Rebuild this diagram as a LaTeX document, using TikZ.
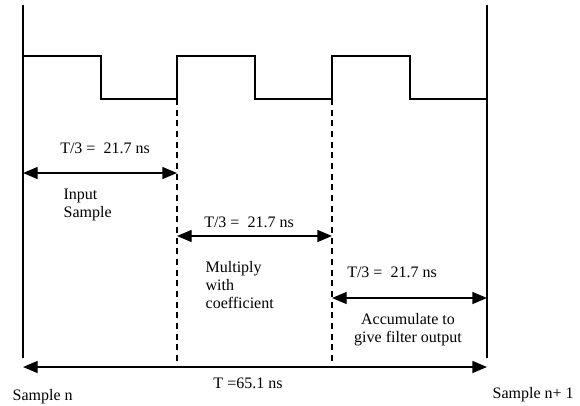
\documentclass[tikz,border=0pt]{standalone}
\usepackage{fontspec}
\setmainfont{Liberation Serif}
\usetikzlibrary{arrows.meta}
\tikzset{
  span/.style={<->},
  guide/.style={dash pattern=on 4.5pt off 3.5pt},
  lbl/.style={inner sep=0pt}
}

\begin{document}
\begin{tikzpicture}[x=0.75pt,y=-0.75pt,>={Triangle[length=11pt,width=9pt]},
    line width=1pt,font=\fontsize{12}{13.6}\selectfont]
  \useasboundingbox (0,0) rectangle (580,405);
  % sample boundaries
  \coordinate (top0) at (23,5);   \coordinate (bot0) at (23,358);
  \coordinate (top3) at (487,5);  \coordinate (bot3) at (487,358);
  \coordinate (cut1) at (177,99); \coordinate (end1) at (177,367);
  \coordinate (cut2) at (332,99); \coordinate (end2) at (332,367);
  \draw (top0) -- (bot0);
  \draw (top3) -- (bot3);
  \draw[guide] (cut1) -- (end1);
  \draw[guide] (cut2) -- (end2);
  % clock
  \draw (23,56) -| (101,99) -| (177,56) -| (255,99) -| (332,56) -| (410,99) -- (487,99);
  % phases
  \coordinate (a0) at (23,173);  \coordinate (a1) at (177,173);
  \coordinate (b0) at (177,236); \coordinate (b1) at (332,236);
  \coordinate (c0) at (332,298); \coordinate (c1) at (487,298);
  \coordinate (d0) at (23,367);  \coordinate (d1) at (487,367);
  \draw[span] (a0) -- (a1);
  \draw[span] (b0) -- (b1);
  \draw[span] (c0) -- (c1);
  \draw[span] (d0) -- (d1);
  \node[lbl] (ta) at (105,148) {T/3 =\ \ 21.7 ns};
  \node[lbl,anchor=west,align=left] (pa) at (63,205) {Input\\Sample};
  \node[lbl] (tb) at (249,222) {T/3 =\ \ 21.7 ns};
  \node[lbl,anchor=west,align=left] (pb) at (205,285) {Multiply\\with\\coefficient};
  \node[lbl] (tc) at (392,272) {T/3 =\ \ 21.7 ns};
  \node[lbl,align=center] (pc) at (408,330) {Accumulate to\\give filter output};
  \node[lbl] (td) at (248,383) {T =65.1 ns};
  \node[lbl,anchor=west] (sn) at (12,397) {Sample n};
  \node[lbl,anchor=west] (sm) at (492,395) {Sample n+ 1};
\end{tikzpicture}
\end{document}
